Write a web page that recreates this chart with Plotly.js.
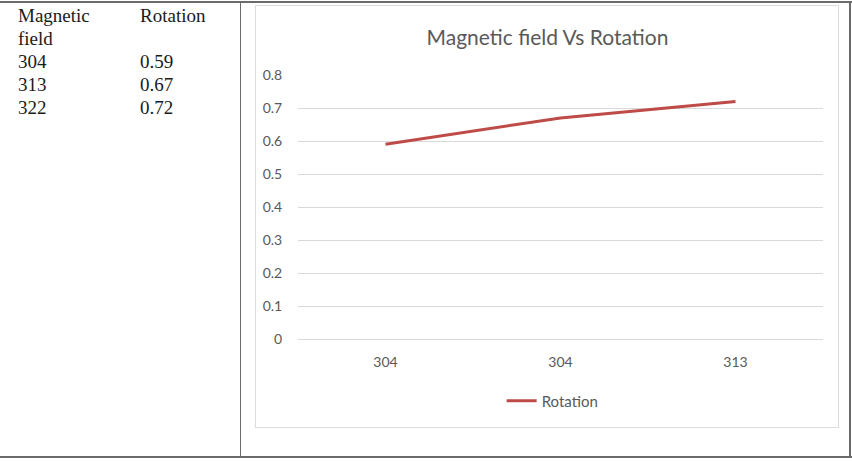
<!DOCTYPE html>
<html>
<head>
<meta charset="utf-8">
<script src="https://cdn.plot.ly/plotly-3.0.1.min.js"></script>
<style>
  html, body { margin:0; padding:0; background:#fff; }
  #page { position:relative; width:852px; height:462px; overflow:hidden; }
  .rule { position:absolute; background:#6b6b6b; }
  .cell { position:absolute; font-family:"Liberation Serif","Times New Roman",serif; font-size:19px; line-height:23px; color:#1a1a1a; }
  #chartbox { position:absolute; left:255px; top:5px; width:584px; height:423px; border:1px solid #dcdcdc; box-sizing:border-box; }
  #chart { position:absolute; left:255px; top:5px; width:585px; height:424px; }
</style>
</head>
<body>
<div id="page">
  <div class="rule" style="left:0;top:1px;width:852px;height:2px;"></div>
  <div class="rule" style="left:0;top:456px;width:852px;height:2px;"></div>
  <div class="rule" style="left:849px;top:1px;width:2px;height:457px;"></div>
  <div class="rule" style="left:240px;top:1px;width:1px;height:457px;"></div>
  <div id="colA" class="cell" style="left:18px;top:4px;width:100px;"></div>
  <div id="colB" class="cell" style="left:140px;top:4px;width:100px;"></div>
  <div id="chartbox"></div>
  <div id="chart"></div>
</div>
<script>
// ---- data ----
var tableHeaderField = "Magnetic field";
var tableHeaderRotation = "Rotation";
var fieldValues = [304, 313, 322];
var rotationValues = [0.59, 0.67, 0.72];
var xTickLabels = ["304", "304", "313"];
var seriesName = "Rotation";
var chartTitle = "Magnetic field Vs Rotation";

// ---- table ----
var colA = document.getElementById('colA');
var colB = document.getElementById('colB');
var hA = document.createElement('div'); hA.textContent = tableHeaderField; colA.appendChild(hA);
var hB = document.createElement('div'); hB.textContent = tableHeaderRotation; hB.style.height = '46px'; colB.appendChild(hB);
fieldValues.forEach(function(v){ var d=document.createElement('div'); d.textContent=String(v); colA.appendChild(d); });
rotationValues.forEach(function(v){ var d=document.createElement('div'); d.textContent=v.toFixed(2); colB.appendChild(d); });

// ---- chart ----
var xIdx = xTickLabels.map(function(_, i){ return i; });
var grey = '#595959';
var font = 'Lato, "Open Sans", sans-serif';
Plotly.newPlot('chart', [{
  x: xIdx,
  y: rotationValues,
  type: 'scatter',
  mode: 'lines',
  name: seriesName,
  line: { color: '#be4b48', width: 3 },
  showlegend: true
}], {
  width: 585, height: 424,
  margin: { l: 43, r: 17, t: 70, b: 90 },
  paper_bgcolor: 'rgba(0,0,0,0)',
  plot_bgcolor: 'rgba(0,0,0,0)',
  title: { text: chartTitle, font: { family: font, size: 21, color: grey }, x: 0.5, xanchor: 'center', y: 0.922, yanchor: 'middle' },
  xaxis: {
    range: [-0.5, 2.5],
    tickvals: xIdx, ticktext: xTickLabels,
    showgrid: false, zeroline: false,
    showline: true, linecolor: '#d9d9d9', linewidth: 1,
    ticks: 'outside', ticklen: 10, tickcolor: 'rgba(0,0,0,0)',
    tickfont: { family: font, size: 14, color: grey },
    fixedrange: true
  },
  yaxis: {
    range: [0, 0.8], dtick: 0.1,
    tickvals: [0,0.1,0.2,0.3,0.4,0.5,0.6,0.7,0.8],
    ticktext: ['0','0.1','0.2','0.3','0.4','0.5','0.6','0.7','0.8'],
    showgrid: true, gridcolor: '#d9d9d9', gridwidth: 1,
    zeroline: false, showline: false,
    ticks: 'outside', ticklen: 12, tickcolor: 'rgba(0,0,0,0)',
    tickfont: { family: font, size: 14, color: grey },
    fixedrange: true
  },
  legend: {
    orientation: 'h', x: 0.485, xanchor: 'center', y: -0.235, yanchor: 'middle',
    font: { family: font, size: 15, color: grey },
    itemwidth: 30, bgcolor: 'rgba(0,0,0,0)'
  },
  showlegend: true
}, { displayModeBar: false, staticPlot: true });
</script>
</body>
</html>
